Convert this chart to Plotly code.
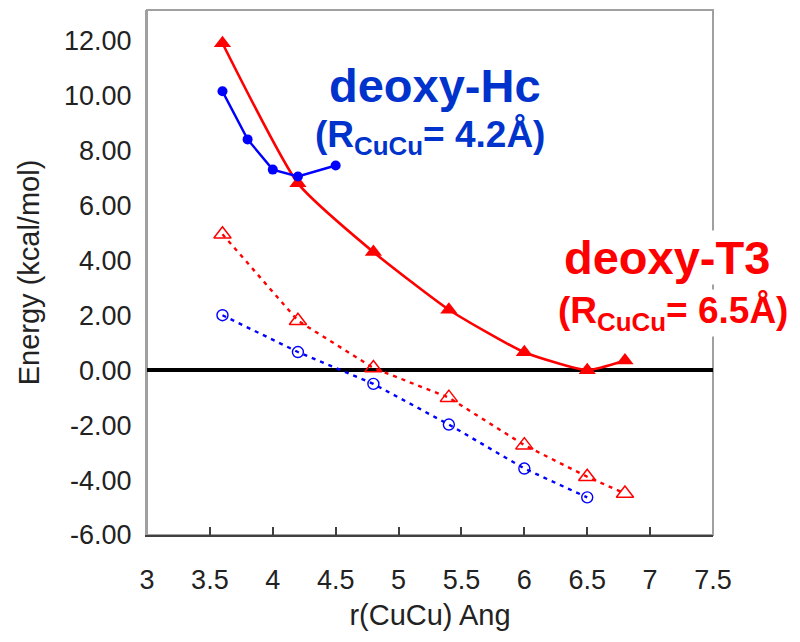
import plotly.graph_objects as go

# ---- data ----
x_t3 = [3.6, 4.2, 4.8, 5.4, 6.0, 6.5, 6.8]
e_t3_solid = [11.9, 6.8, 4.3, 2.2, 0.65, 0.0, 0.35]
x_hc = [3.6, 3.8, 4.0, 4.2, 4.5]
e_hc_solid = [10.15, 8.4, 7.3, 7.05, 7.45]
x_t3_dash = [3.6, 4.2, 4.8, 5.4, 6.0, 6.5, 6.8]
e_t3_dash = [4.95, 1.8, 0.08, -1.0, -2.73, -3.88, -4.49]
x_hc_dash = [3.6, 4.2, 4.8, 5.4, 6.0, 6.5]
e_hc_dash = [2.0, 0.66, -0.5, -1.98, -3.58, -4.63]

x_ticks = [3, 3.5, 4, 4.5, 5, 5.5, 6, 6.5, 7, 7.5]
x_ticktext = ["3", "3.5", "4", "4.5", "5", "5.5", "6", "6.5", "7", "7.5"]
y_ticks = [-6, -4, -2, 0, 2, 4, 6, 8, 10, 12]
y_ticktext = ["-6.00", "-4.00", "-2.00", "0.00", "2.00", "4.00", "6.00", "8.00", "10.00", "12.00"]

RED = "#FF0000"
BLUE = "#0000FF"
FONT = "Liberation Sans, Arial, sans-serif"

fig = go.Figure()

fig.add_trace(go.Scatter(
    x=x_t3_dash, y=e_t3_dash, mode="lines+markers",
    line=dict(color=RED, width=2.4, dash="4px,5px"),
    marker=dict(symbol="triangle-up-open", size=15, color=RED, line=dict(width=1.5, color=RED)),
    showlegend=False))
fig.add_trace(go.Scatter(
    x=x_hc_dash, y=e_hc_dash, mode="lines+markers",
    line=dict(color=BLUE, width=2.4, dash="4px,5px"),
    marker=dict(symbol="circle-open", size=11, color=BLUE, line=dict(width=1.4, color=BLUE)),
    showlegend=False))
fig.add_trace(go.Scatter(
    x=x_t3, y=e_t3_solid, mode="lines+markers",
    line=dict(color=RED, width=2.6, shape="spline", smoothing=0.5),
    marker=dict(symbol="triangle-up", size=15, color=RED),
    showlegend=False))
fig.add_trace(go.Scatter(
    x=x_hc, y=e_hc_solid, mode="lines+markers",
    line=dict(color=BLUE, width=2.4),
    marker=dict(symbol="circle", size=10, color=BLUE),
    showlegend=False))

# annotations
fig.add_annotation(xref="paper", yref="paper", x=0.508, y=0.857,
                   text="<b>deoxy-Hc</b>", showarrow=False,
                   font=dict(family=FONT, size=47, color="#0033CC"),
                   xanchor="center", yanchor="middle")
fig.add_annotation(xref="paper", yref="paper", x=0.500, y=0.758,
                   text="<b>(R<sub>CuCu</sub>= 4.2Å)</b>", showarrow=False,
                   font=dict(family=FONT, size=37, color="#0033CC"),
                   xanchor="center", yanchor="middle")
fig.add_annotation(xref="paper", yref="paper", x=0.918, y=0.528,
                   text="<b>deoxy-T3</b>", showarrow=False,
                   font=dict(family=FONT, size=47, color=RED),
                   bgcolor="white", borderpad=0,
                   xanchor="center", yanchor="middle")
fig.add_annotation(xref="paper", yref="paper", x=0.930, y=0.423,
                   text="<b>(R<sub>CuCu</sub>= 6.5Å)</b>", showarrow=False,
                   font=dict(family=FONT, size=37, color=RED),
                   bgcolor="white", borderpad=0,
                   xanchor="center", yanchor="middle")

# plot frame (gray on top/right)
fig.add_shape(type="rect", xref="paper", yref="paper", x0=0, y0=0, x1=1, y1=1,
              line=dict(color="#A0A0A0", width=2), layer="below")

fig.update_layout(
    width=792, height=634,
    margin=dict(l=139, r=87, t=2, b=107),
    paper_bgcolor="white", plot_bgcolor="white",
    font=dict(family=FONT, color="#222222"),
    xaxis=dict(
        range=[3, 7.5], tickvals=x_ticks, ticktext=x_ticktext,
        showgrid=False, zeroline=False,
        showline=True, linecolor="#404040", linewidth=2,
        ticks="inside", ticklen=8, tickcolor="#404040", tickwidth=1.5,
        tickfont=dict(size=27, family=FONT, color="#222222"),
        ticklabelstandoff=20,
        title=dict(text="r(CuCu) Ang", font=dict(size=29, family=FONT, color="#222222"), standoff=10),
    ),
    yaxis=dict(
        range=[-6, 13.11], tickvals=y_ticks, ticktext=y_ticktext,
        showgrid=False, zeroline=True, zerolinecolor="black", zerolinewidth=3.5,
        showline=True, linecolor="#A0A0A0", linewidth=2,
        ticks="",
        tickfont=dict(size=27, family=FONT, color="#222222"),
        ticklabelstandoff=8,
        title=dict(text="Energy (kcal/mol)", font=dict(size=29, family=FONT, color="#222222"), standoff=16),
    ),
)

fig.write_html("out.html")
